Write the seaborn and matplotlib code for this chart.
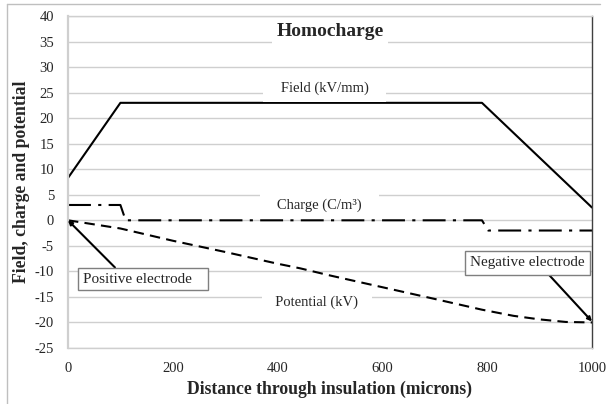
import matplotlib
matplotlib.use("Agg")
import matplotlib.pyplot as plt
import seaborn as sns
from matplotlib.lines import Line2D

# values
field_x = [0, 100, 790, 1000]
field_y = [8.3, 23, 23, 2.5]

charge_x = [0, 100, 110, 790, 802, 1000]
charge_y = [3, 3, 0, 0, -2, -2]

potential_x = [0, 100, 200, 300, 400, 443, 500, 600, 700, 790, 850, 900, 950, 1000]
potential_y = [0, -1.6, -4.0, -6.2, -8.5, -9.4, -10.8, -13.1, -15.4, -17.5, -18.7, -19.4, -19.9, -20.0]

x_ticks = [0, 200, 400, 600, 800, 1000]
y_ticks = list(range(-25, 41, 5))

sns.set_style("white")
plt.rcParams['font.family'] = ['Liberation Serif', 'DejaVu Serif']
plt.rcParams['axes.unicode_minus'] = False

grid_col = '#cfcfcf'

fig = plt.figure(figsize=(6.12, 4.04), dpi=100)
ax = fig.add_axes([68/612, 1-348/404, (592-68)/612, (348-16)/404])

sns.lineplot(x=field_x, y=field_y, ax=ax, color='black', lw=1.5)
sns.lineplot(x=charge_x, y=charge_y, ax=ax, color='black', lw=1.5)
sns.lineplot(x=potential_x, y=potential_y, ax=ax, color='black', lw=1.5)
ax.lines[1].set_dashes((11, 3.5, 1.5, 3.5))
ax.lines[2].set_dashes((5, 3))

ax.set_xlim(0, 1000)
ax.set_ylim(-25, 40)
ax.set_xticks(x_ticks)
ax.set_yticks(y_ticks)
ax.yaxis.grid(True, color=grid_col, lw=1)
ax.set_axisbelow(True)
ax.tick_params(axis='x', direction='out', length=4, color=grid_col, labelsize=10.5, pad=6)
ax.tick_params(axis='y', direction='out', length=3, color=grid_col, labelsize=10.5, pad=7)

for s in ['left', 'bottom']:
    ax.spines[s].set_color(grid_col)
ax.spines['left'].set_linewidth(1.6)
ax.spines['bottom'].set_linewidth(1)
ax.spines['top'].set_color(grid_col)
ax.spines['top'].set_linewidth(1)
ax.spines['right'].set_color('#404040')
ax.spines['right'].set_linewidth(1)

ax.set_xlabel('Distance through insulation (microns)', fontsize=12.7, fontweight='bold', labelpad=4)
ax.set_ylabel('Field, charge and potential', fontsize=12.7, fontweight='bold', labelpad=3)

# title and curve labels sit inside the plot on white boxes
ax.text(500, 37.0, 'Homocharge', ha='center', va='center', fontsize=14, fontweight='bold',
        bbox=dict(boxstyle='square,pad=0.2', fc='white', ec='none'))
lab_box = dict(boxstyle='square,pad=0.45', fc='white', ec='none')
ax.text(490, 25.8, '   Field (kV/mm)   ', ha='center', va='center', fontsize=10.5, bbox=lab_box)
ax.text(480, 3.0, '   Charge (C/m³)   ', ha='center', va='center', fontsize=10.5, bbox=lab_box)
ax.text(475, -16.0, '  Potential (kV)  ', ha='center', va='center', fontsize=10.5, bbox=lab_box)

# electrode callouts
ax.annotate('Positive electrode   ', xy=(0, 0), xytext=(28, -11.5), ha='left', va='center',
            fontsize=11,
            bbox=dict(boxstyle='square,pad=0.3', fc='white', ec='#7f7f7f', lw=1),
            arrowprops=dict(arrowstyle='-|>', color='black', lw=1.5, mutation_scale=6,
                            shrinkA=0, shrinkB=0, relpos=(0.31, 1)))
ax.annotate('Negative electrode', xy=(1000, -19.8), xytext=(768, -8.3), ha='left', va='center',
            fontsize=11,
            bbox=dict(boxstyle='square,pad=0.35', fc='white', ec='#7f7f7f', lw=1),
            arrowprops=dict(arrowstyle='-|>', color='black', lw=1.5, mutation_scale=6,
                            shrinkA=0, shrinkB=0, relpos=(0.64, 0)))

# chart-area border (only top and left show in the crop)
fig.add_artist(Line2D([7/612, 600/612], [1-4/404, 1-4/404], color='#bfbfbf', lw=1))
fig.add_artist(Line2D([7/612, 7/612], [0, 1-4/404], color='#bfbfbf', lw=1))

fig.savefig('out.png', dpi=100)
